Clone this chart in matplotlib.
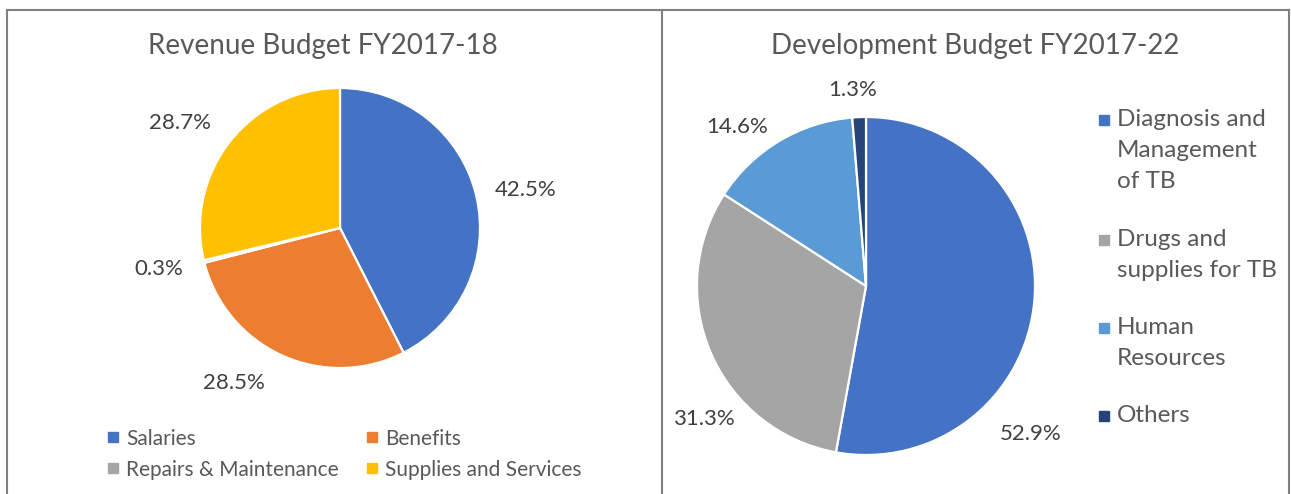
import numpy as np
import matplotlib.pyplot as plt
from matplotlib.lines import Line2D

plt.rcParams['font.family'] = ['Lato', 'DejaVu Sans']

# revenue budget FY2017-18
rev_labels = ['Salaries', 'Benefits', 'Repairs & Maintenance', 'Supplies and Services']
rev_values = [42.5, 28.5, 0.3, 28.7]
rev_colors = ['#4472C4', '#ED7D31', '#A5A5A5', '#FFC000']

# development budget FY2017-22
dev_labels = ['Diagnosis and\nManagement\nof TB', 'Drugs and\nsupplies for TB',
              'Human\nResources', 'Others']
dev_values = [52.9, 31.3, 14.6, 1.3]
dev_colors = ['#4472C4', '#A5A5A5', '#5B9BD5', '#264478']

W, H = 1291, 494
fig = plt.figure(figsize=(W / 100, H / 100), dpi=100)
fig.patch.set_facecolor('white')

TXT = '#595959'
LBL = '#404040'


def px_axes(cx, cy, r):
    # square axes whose data range -1..1 maps onto a circle of radius r px
    return fig.add_axes([(cx - r) / W, (H - cy - r) / H, 2 * r / W, 2 * r / H])


def draw_pie(ax, values, colors, dist, nudge):
    wedges, _ = ax.pie(values, colors=colors, startangle=90, counterclock=False,
                       wedgeprops=dict(edgecolor='white', linewidth=1.6))
    for w in wedges:
        w.set_clip_on(False)
    for w, v, d, n in zip(wedges, values, dist, nudge):
        a = np.deg2rad((w.theta1 + w.theta2) / 2 + n)
        ax.text(d * np.cos(a), d * np.sin(a), f'{v:.1f}%', ha='center', va='center',
                fontsize=16, color=LBL)
    ax.set_xlim(-1, 1)
    ax.set_ylim(-1, 1)
    ax.set_aspect('equal')
    ax.axis('off')


def key(x, y, color, label, size):
    fig.add_artist(Line2D([x / W], [1 - y / H], marker='s', markersize=7.5,
                          color=color, linestyle='none', transform=fig.transFigure))
    fig.text((x + 13) / W, 1 - y / H, label, ha='left', va='center_baseline',
             fontsize=size, color=TXT)


ax1 = px_axes(340, 228, 140)
draw_pie(ax1, rev_values, rev_colors, [1.35, 1.34, 1.33, 1.37], [-2, -10, -1, 5])

ax2 = px_axes(866, 286, 169)
draw_pie(ax2, dev_values, dev_colors, [1.31, 1.24, 1.21, 1.16], [-37, 16, 8, 1.5])

fig.text(323 / W, 1 - 46 / H, 'Revenue Budget FY2017-18', ha='center', va='center',
         fontsize=20, color=TXT)
fig.text(975 / W, 1 - 46 / H, 'Development Budget FY2017-22', ha='center', va='center',
         fontsize=20, color=TXT)

# left legend: two columns, filled row by row
for i, (lab, c) in enumerate(zip(rev_labels, rev_colors)):
    key(113 + 259 * (i % 2), 437 + 31 * (i // 2), c, lab, 15)

# right legend: square sits on the first text line of each entry
y = 120
for lab, c in zip(dev_labels, dev_colors):
    n = lab.count('\n') + 1
    fig.add_artist(Line2D([1104 / W], [1 - y / H], marker='s', markersize=7.5,
                          color=c, linestyle='none', transform=fig.transFigure))
    fig.text(1117 / W, 1 - (y - 11) / H, lab, ha='left', va='top', fontsize=17.5,
             color=TXT, linespacing=1.6)
    y += 32 * n + 24

# panel borders
for xs, ys in [([7, 7], [10, H]), ([662, 662], [10, H]), ([1289, 1289], [10, H]),
               ([7, 1289], [10, 10])]:
    fig.add_artist(Line2D([x / W for x in xs], [1 - v / H for v in ys],
                          color='#808080', linewidth=1.5, transform=fig.transFigure))

fig.savefig('out.png', dpi=100)
